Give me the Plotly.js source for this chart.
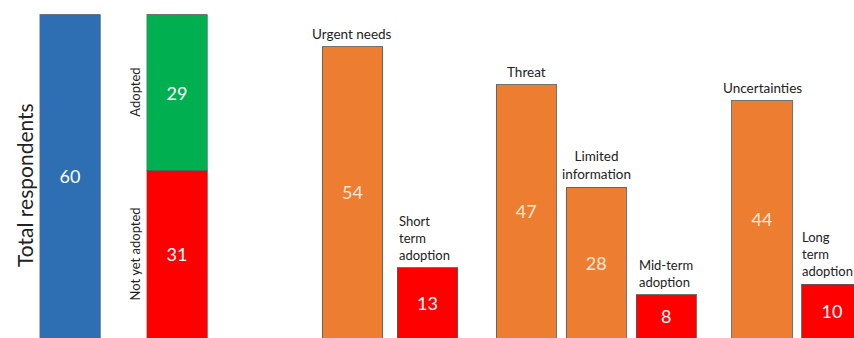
<!DOCTYPE html>
<html>
<head>
<meta charset="utf-8">
<script src="https://cdn.plot.ly/plotly-3.0.1.min.js"></script>
<style>
html, body { margin:0; padding:0; overflow:hidden; background:#fff; }
#chart { width:870px; height:338px; }
</style>
</head>
<body>
<div id="chart"></div>
<script>
// ---- data ----
const totalCategory = ['Total respondents'];
const totalValues = [60];

const stackCategory = ['Adoption status'];
const notYetAdoptedValues = [31];
const adoptedValues = [29];
const stackLabels = ['Not yet adopted', 'Adopted'];

const shortCats = ['Urgent needs', 'Short term adoption'];
const shortValues = [54, 13];
const shortLabels = ['Urgent needs', 'Short<br>term<br>adoption'];

const midCats = ['Threat', 'Limited information', 'Mid-term adoption'];
const midValues = [47, 28, 8];
const midLabels = ['Threat', 'Limited<br>information', 'Mid-term<br>adoption'];

const longCats = ['Uncertainties', 'Long term adoption'];
const longValues = [44, 10];
const longLabels = ['Uncertainties', 'Long<br>term<br>adoption'];

// ---- styles ----
const BLUE = '#2E6FB4', GREEN = '#00B050', RED = '#FF0000', ORANGE = '#ED7D31';
const OUTLINE = {color:'rgba(90,90,90,0.85)', width:1};
const FONT = 'Lato, "Open Sans", sans-serif';
const W = 870, H = 338;
const WHITE_TXT = '#ffffff', CREAM_TXT = '#FCE8D8';

function groupColors(n){ // last bar of each reason group is the adoption (red) bar
  const c = []; for (let i=0;i<n;i++) c.push(i===n-1 ? RED : ORANGE); return c;
}

function barTrace(cats, vals, colors, xa, width){
  return {
    type:'bar', x:cats, y:vals, xaxis:xa, yaxis:'y',
    marker:{color:colors, line:OUTLINE},
    width: width,
    text: vals.map(String), textposition:'inside', insidetextanchor:'middle',
    textfont:{family:FONT, size:18, color: colors.map(c => c===ORANGE ? CREAM_TXT : WHITE_TXT)},
    constraintext:'none', hoverinfo:'skip', showlegend:false
  };
}

const traces = [
  barTrace(totalCategory, totalValues, [BLUE], 'x', 1),
  barTrace(stackCategory, notYetAdoptedValues, [RED], 'x2', 1),
  barTrace(stackCategory, adoptedValues, [GREEN], 'x2', 1),
  barTrace(shortCats, shortValues, groupColors(shortCats.length), 'x3', 0.804),
  barTrace(midCats, midValues, groupColors(midCats.length), 'x4', 0.857),
  barTrace(longCats, longValues, groupColors(longCats.length), 'x5', 0.866)
];

function px(a,b){ return [a/W, b/W]; }
function hidden(domain, n){
  return {domain:domain, anchor:'y', type:'category', range:[-0.5, n-0.5], autorange:false,
          showgrid:false, zeroline:false, showticklabels:false, showline:false, ticks:'', fixedrange:true};
}

const labelFont = {family:FONT, size:13.5, color:'#222222'};
const sideFont = {family:FONT, size:13, color:'#222222'};
const annotations = [];

function addLabels(cats, vals, labels, xref, halfWidth){
  cats.forEach((c,i)=>{
    const isLeft = i === cats.length-1 && i>0;
    annotations.push({
      xref:xref, yref:'y', x:c, y:vals[i], text:labels[i], showarrow:false,
      yanchor:'bottom', xanchor: isLeft ? 'left' : 'center', align: isLeft ? 'left' : 'center',
      xshift: isLeft ? -halfWidth : 0, yshift: 3, font: isLeft ? sideFont : labelFont
    });
  });
}
addLabels(shortCats, shortValues, shortLabels, 'x3', 30);
addLabels(midCats, midValues, midLabels, 'x4', 29);
addLabels(longCats, longValues, longLabels, 'x5', 32);

// stack side labels
annotations.push({
  xref:'x2', yref:'y', x:stackCategory[0], y:notYetAdoptedValues[0]/2, text:stackLabels[0],
  textangle:-90, showarrow:false, xanchor:'center', xshift:-42, font:sideFont
});
annotations.push({
  xref:'x2', yref:'y', x:stackCategory[0], y:notYetAdoptedValues[0]+adoptedValues[0]/2, text:stackLabels[1],
  textangle:-90, showarrow:false, xanchor:'center', xshift:-42, font:sideFont
});
// total respondents title
annotations.push({
  xref:'paper', yref:'paper', x:24/W, y:1-185/H, text:totalCategory[0], textangle:-90,
  xanchor:'center', yanchor:'middle',
  showarrow:false, font:{family:FONT, size:21, color:'#222222'}
});

const yTop = 60*H/(H-14.5);
const layout = {
  width:W, height:H, margin:{l:0,r:0,t:0,b:0},
  paper_bgcolor:'#ffffff', plot_bgcolor:'rgba(0,0,0,0)',
  barmode:'stack', bargap:0, showlegend:false,
  font:{family:FONT},
  xaxis: hidden(px(39.5,100.5), 1),
  xaxis2: hidden(px(146.5,207.5), 1),
  xaxis3: hidden(px(314.9,464.9), 2),
  xaxis4: hidden(px(491.2,701.2), 3),
  xaxis5: hidden(px(727,867), 2),
  yaxis: {range:[0,yTop], domain:[0,1], showgrid:false, zeroline:false, showticklabels:false,
          showline:false, ticks:'', fixedrange:true},
  annotations: annotations
};

Plotly.newPlot('chart', traces, layout, {displayModeBar:false, staticPlot:true});
</script>
</body>
</html>
